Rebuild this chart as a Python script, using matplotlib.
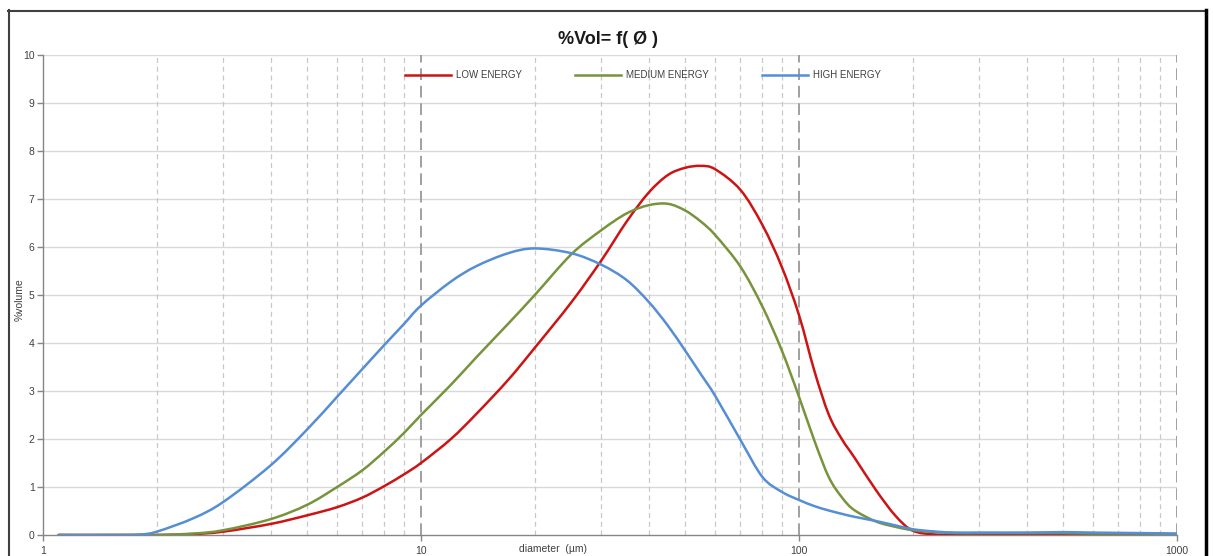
import numpy as np
import matplotlib
matplotlib.use("Agg")
import matplotlib.pyplot as plt
from matplotlib.lines import Line2D
from matplotlib.path import Path
from matplotlib.patches import PathPatch

plt.rcParams['font.family'] = ['Liberation Sans', 'DejaVu Sans']

# particle diameter (um)
diameter = [1.1, 1.5, 1.8, 2, 2.5, 3, 4, 5, 6, 7, 8, 9, 10, 12, 14, 17, 20, 25, 30, 35,
            40, 45, 50, 55, 60, 70, 80, 90, 100, 110, 120, 130, 140, 160, 180, 200,
            230, 260, 300, 400, 500, 600, 800, 1000]

low_energy = [0, 0, 0, 0, 0.02, 0.07, 0.23, 0.41, 0.58, 0.78, 1.02, 1.26, 1.5, 2.0, 2.52,
              3.23, 3.9, 4.85, 5.72, 6.53, 7.13, 7.5, 7.65, 7.69, 7.62, 7.19, 6.46, 5.59,
              4.58, 3.4, 2.5, 1.99, 1.62, 0.93, 0.4, 0.09, 0.01, 0.01, 0.01, 0.01, 0.01,
              0.01, 0.01, 0.01]

medium_energy = [0, 0, 0, 0, 0.03, 0.1, 0.33, 0.63, 1.0, 1.35, 1.74, 2.12, 2.5, 3.13, 3.7,
                 4.4, 5.0, 5.85, 6.35, 6.7, 6.87, 6.9, 6.76, 6.53, 6.25, 5.59, 4.76,
                 3.85, 2.88, 1.95, 1.2, 0.78, 0.52, 0.28, 0.17, 0.1, 0.06, 0.04, 0.04,
                 0.04, 0.04, 0.03, 0.03, 0.02]

high_energy = [0, 0, 0.01, 0.07, 0.35, 0.69, 1.45, 2.2, 2.88, 3.46, 3.96, 4.39, 4.78,
               5.28, 5.6, 5.87, 5.97, 5.87, 5.63, 5.31, 4.86, 4.36, 3.84, 3.35, 2.9, 1.98,
               1.21, 0.9, 0.73, 0.6, 0.51, 0.44, 0.38, 0.29, 0.2, 0.12, 0.07, 0.05, 0.05,
               0.05, 0.06, 0.05, 0.04, 0.03]


def smooth_path(xs, ys):
    # excel-style smoothed line: bezier segments, control points taken in log-x space
    lx = np.log10(xs)
    y = np.asarray(ys, float)
    n = len(lx)
    verts = [(xs[0], y[0])]
    codes = [Path.MOVETO]
    for i in range(n - 1):
        i0, i3 = max(i - 1, 0), min(i + 2, n - 1)
        c1 = (lx[i] + (lx[i+1] - lx[i0]) / 6, y[i] + (y[i+1] - y[i0]) / 6)
        c2 = (lx[i+1] - (lx[i3] - lx[i]) / 6, y[i+1] - (y[i3] - y[i]) / 6)
        verts += [(10**c1[0], c1[1]), (10**c2[0], c2[1]), (xs[i+1], y[i+1])]
        codes += [Path.CURVE4] * 3
    return Path(verts, codes)


fig = plt.figure(figsize=(12.13, 5.56), dpi=100)
ax = fig.add_axes([43/1213, 1-535/556, 1134/1213, 480/556])

series = [(low_energy, '#CC1414', 'LOW ENERGY'),
          (medium_energy, '#77933C', 'MEDIUM ENERGY'),
          (high_energy, '#558ED5', 'HIGH ENERGY')]
handles = []
for vals, col, lab in series:
    ax.add_patch(PathPatch(smooth_path(diameter, vals), facecolor='none', edgecolor=col,
                           lw=1.8, zorder=3, capstyle='round', joinstyle='round'))
    handles.append(Line2D([], [], color=col, lw=1.8, label=lab))

ax.set_xscale('log')
ax.set_xlim(1, 1000)
ax.set_ylim(0, 10)

# grid
for yv in range(1, 11):
    ax.axhline(yv, color='#d9d9d9', lw=1, zorder=1)
for dec in [1, 10, 100]:
    for m in range(2, 10):
        ax.axvline(dec*m, color='#c8c8c8', lw=0.9, ls=(0, (4, 3)), zorder=1)
for xv in [10, 100, 1000]:
    ax.axvline(xv, color='#a0a0a0', lw=1.4, ls=(0, (6, 3)), zorder=1)

ax.set_xticks([1, 10, 100, 1000])
ax.set_xticklabels(['1', '10', '100', '1000'])
ax.xaxis.set_minor_locator(matplotlib.ticker.NullLocator())
ax.set_yticks(range(0, 11))
ax.tick_params(axis='both', labelsize=7.5, colors='#868686', labelcolor='#404040',
               length=4, width=1)
ax.tick_params(axis='x', pad=4)
ax.tick_params(axis='y', pad=2)

for s in ['top', 'right']:
    ax.spines[s].set_visible(False)
for s in ['left', 'bottom']:
    ax.spines[s].set_color('#868686')
    ax.spines[s].set_linewidth(1)

ax.set_xlabel('diameter  (µm)', fontsize=7.5, color='#404040')
ax.xaxis.set_label_coords((553-43)/1134, -0.03)
ax.xaxis.label.set_va('center')
ax.set_ylabel('%volume', fontsize=7.5, color='#404040')
ax.yaxis.set_label_coords((20-43)/1134, (535-300)/480)
ax.yaxis.label.set_va('center')

fig.text(608/1213, 1-40/556, '%Vol= f( Ø )', ha='center', va='center',
         fontsize=13, fontweight='bold', color='#1a1a1a')

leg = ax.legend(handles=handles, loc='center', bbox_to_anchor=((643-43)/1134, (535-75)/480),
                ncol=3, frameon=False, fontsize=7, handlelength=4.8, handletextpad=0.5,
                columnspacing=5.4)
for t in leg.get_texts():
    t.set_color('#404040')

# outer frame
fig.add_artist(Line2D([8.5/1213, 8.5/1213], [0, 1-10/556], transform=fig.transFigure,
                      color='#404040', lw=1.5))
fig.add_artist(Line2D([8/1213, 1206/1213], [1-10.5/556, 1-10.5/556],
                      transform=fig.transFigure, color='#404040', lw=1.5))
fig.add_artist(Line2D([1206/1213, 1206/1213], [0, 1-10/556], transform=fig.transFigure,
                      color='black', lw=2.5))

fig.savefig('out.png', dpi=100)
